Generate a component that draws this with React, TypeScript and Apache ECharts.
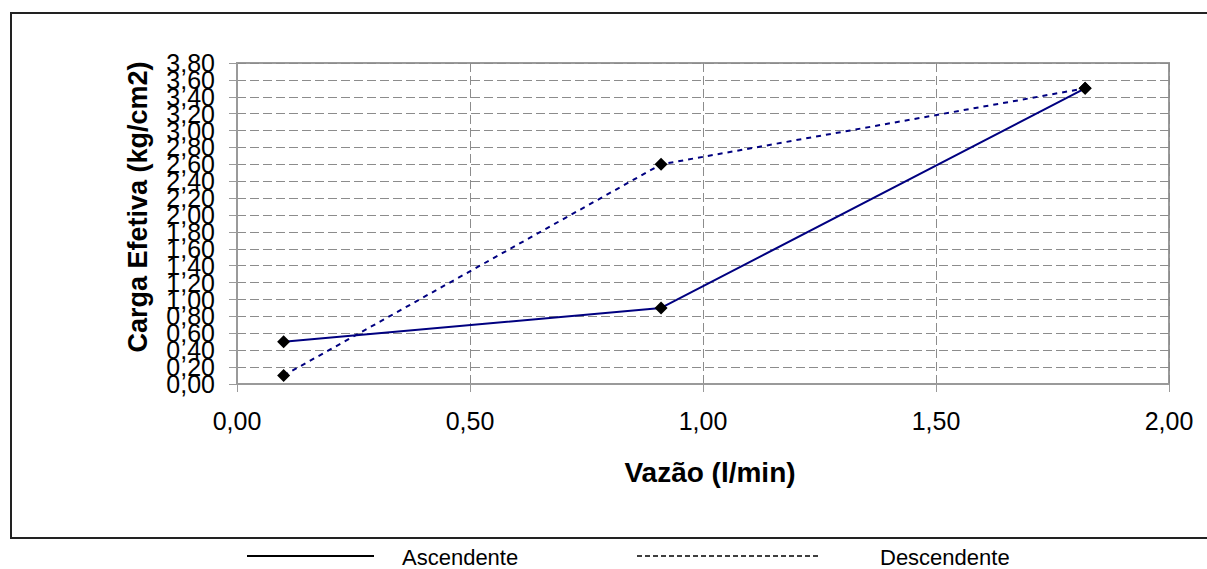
import React, { useEffect, useRef } from "react";
import * as echarts from "echarts";

const seriesNames = ["Ascendente", "Descendente"];
const ascX = [0.1, 0.91, 1.82];
const ascY = [0.5, 0.9, 3.5];
const descX = [0.1, 0.91, 1.82];
const descY = [0.1, 2.6, 3.5];
const xTitle = "Vazão (l/min)";
const yTitle = "Carga Efetiva (kg/cm2)";
const yMin = 0;
const yMax = 3.8;
const yStep = 0.2;

const fmt = (v: number) => v.toFixed(2).replace(".", ",");
const FONT = "'Liberation Sans', Arial, sans-serif";

export default function App() {
  const ref = useRef<HTMLDivElement>(null);
  useEffect(() => {
    if (!ref.current) return;
    const chart = echarts.init(ref.current, undefined, { renderer: "svg" });
    const gridColor = "#8c8c8c";
    const axisColor = "#9a9a9a";
    const yLabel = {
      formatter: fmt,
      fontSize: 25,
      color: "#000",
      margin: 22,
      fontFamily: FONT,
      hideOverlap: false,
    };
    chart.setOption({
      animation: false,
      backgroundColor: "#ffffff",
      textStyle: { fontFamily: FONT },
      grid: {
        left: 237,
        right: 38,
        top: 63,
        bottom: 185,
        show: true,
        borderColor: axisColor,
        borderWidth: 2,
        backgroundColor: "transparent",
      },
      xAxis: {
        type: "value",
        min: 0,
        max: 2,
        interval: 0.5,
        axisLine: { show: true, lineStyle: { color: axisColor, width: 2 } },
        axisTick: { show: true, length: 8, lineStyle: { color: axisColor, width: 1 } },
        axisLabel: {
          formatter: fmt,
          fontSize: 25,
          color: "#000",
          margin: 24,
          fontFamily: FONT,
          showMinLabel: true,
          showMaxLabel: true,
          hideOverlap: false,
        },
        splitLine: { show: true, lineStyle: { color: gridColor, type: [9, 4], width: 1 } },
      },
      yAxis: [
        {
          type: "value",
          min: yMin,
          max: yMax,
          interval: yStep,
          axisLine: { show: true, lineStyle: { color: axisColor, width: 2 } },
          axisTick: { show: true, length: 8, lineStyle: { color: axisColor, width: 1 } },
          axisLabel: { ...yLabel, showMinLabel: false, showMaxLabel: false },
          splitLine: { show: true, lineStyle: { color: gridColor, type: [9, 4], width: 1 } },
        },
        {
          type: "value",
          position: "left",
          min: yMin,
          max: yMax,
          interval: yMax - yMin,
          axisLine: { show: false },
          axisTick: { show: true, length: 8, lineStyle: { color: axisColor, width: 1 } },
          axisLabel: { ...yLabel, showMinLabel: true, showMaxLabel: true },
          splitLine: { show: false },
        },
      ],
      series: [
        {
          name: seriesNames[0],
          type: "line",
          data: ascX.map((x, i) => [x, ascY[i]]),
          symbol: "diamond",
          symbolSize: 13,
          itemStyle: { color: "#000" },
          lineStyle: { color: "#000080", width: 2 },
          z: 3,
        },
        {
          name: seriesNames[1],
          type: "line",
          data: descX.map((x, i) => [x, descY[i]]),
          symbol: "diamond",
          symbolSize: 13,
          itemStyle: { color: "#000" },
          lineStyle: { color: "#000080", width: 2, type: [5, 5] },
          z: 3,
        },
      ],
      graphic: [
        {
          type: "rect",
          shape: { x: 11, y: 13, width: 1220, height: 525 },
          style: { fill: "none", stroke: "#222", lineWidth: 2 },
          silent: true,
        },
        {
          type: "text",
          x: 138,
          y: 207,
          rotation: Math.PI / 2,
          style: {
            text: yTitle,
            fontSize: 27,
            fontWeight: "bold",
            fontFamily: FONT,
            fill: "#000",
            textAlign: "center",
            textVerticalAlign: "middle",
          },
        },
        {
          type: "text",
          x: 710,
          y: 472,
          style: {
            text: xTitle,
            fontSize: 28,
            fontWeight: "bold",
            fontFamily: FONT,
            fill: "#000",
            textAlign: "center",
            textVerticalAlign: "middle",
          },
        },
        {
          type: "line",
          shape: { x1: 247, y1: 556, x2: 374, y2: 556 },
          style: { stroke: "#000", lineWidth: 2 },
        },
        {
          type: "text",
          x: 402,
          y: 557,
          style: {
            text: seriesNames[0],
            fontSize: 22,
            fontFamily: FONT,
            fill: "#000",
            textAlign: "left",
            textVerticalAlign: "middle",
          },
        },
        {
          type: "line",
          shape: { x1: 637, y1: 556, x2: 819, y2: 556 },
          style: { stroke: "#000", lineWidth: 1.5, lineDash: [5, 3] },
        },
        {
          type: "text",
          x: 880,
          y: 557,
          style: {
            text: seriesNames[1],
            fontSize: 22,
            fontFamily: FONT,
            fill: "#000",
            textAlign: "left",
            textVerticalAlign: "middle",
          },
        },
      ],
    });
    return () => chart.dispose();
  }, []);
  return (
    <div
      ref={ref}
      style={{ position: "fixed", left: 0, top: 0, width: 1207, height: 569 }}
    />
  );
}
